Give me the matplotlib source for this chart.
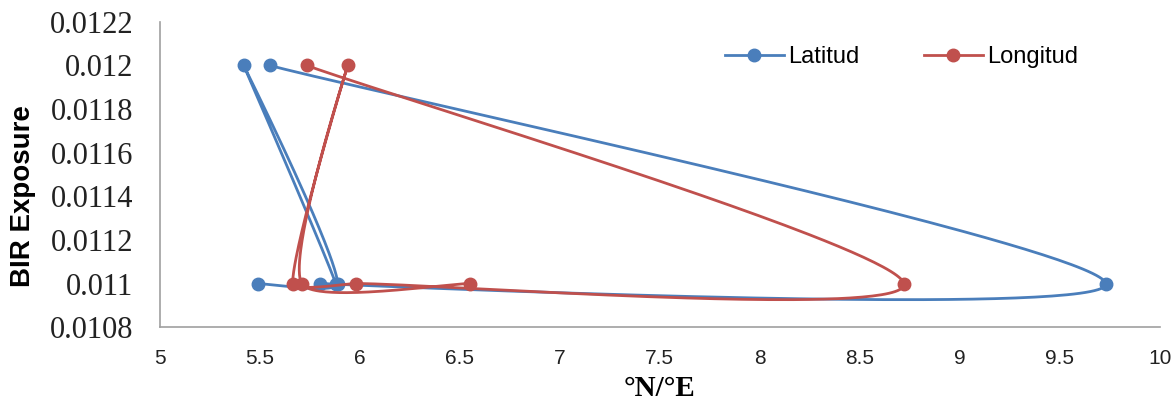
import numpy as np
import matplotlib
matplotlib.use("Agg")
import matplotlib.pyplot as plt

# One row per site: BIR exposure with its latitude and longitude
bir = [0.012, 0.011, 0.011, 0.011, 0.012, 0.011, 0.011]
lat = [5.55, 9.73, 5.80, 5.88, 5.42, 5.89, 5.49]
lon = [5.735, 8.72, 5.98, 5.665, 5.94, 5.71, 6.55]

x_ticks = [5, 5.5, 6, 6.5, 7, 7.5, 8, 8.5, 9, 9.5, 10]
x_tick_labels = ["5", "5.5", "6", "6.5", "7", "7.5", "8", "8.5", "9", "9.5", "10"]
y_ticks = [0.0108, 0.011, 0.0112, 0.0114, 0.0116, 0.0118, 0.012, 0.0122]
y_tick_labels = ["0.0108", "0.011", "0.0112", "0.0114", "0.0116", "0.0118", "0.012", "0.0122"]

XMIN, XMAX = 5, 10
YMIN, YMAX = 0.0108, 0.0122

BLUE = "#4a7ebb"
RED = "#c0504d"

fig = plt.figure(figsize=(11.74, 4.12), dpi=100)
ax = fig.add_axes([0.136, 0.206, 0.852, 0.741])
ax.set_xlim(XMIN, XMAX)
ax.set_ylim(YMIN, YMAX)

# axes size in pixels, the smoothing is done in screen space
W_PX = 0.852 * 1174
H_PX = 0.741 * 412


def smooth(xs, ys, n=80):
    # Bezier smoothing like a spreadsheet "smoothed line": tangent from the
    # neighbours, arms shortened on short segments and at hairpin turns
    px = (np.asarray(xs) - XMIN) / (XMAX - XMIN) * W_PX
    py = (np.asarray(ys) - YMIN) / (YMAX - YMIN) * H_PX
    P = np.column_stack([px, py])
    m = len(P)

    # how much tangent each point gets
    k = np.ones(m)
    for i in range(1, m - 1):
        a = P[i] - P[i - 1]
        b = P[i + 1] - P[i]
        na, nb = np.hypot(*a), np.hypot(*b)
        if na > 0 and nb > 0:
            turn = np.degrees(np.arccos(np.clip(a @ b / (na * nb), -1, 1)))
            k[i] = np.clip((180 - turn) / 12.0, 0, 1)

    def arm(vec, seg):
        L = np.hypot(*vec)
        lim = 0.14 * seg
        if L > lim and L > 0:
            vec = vec * lim / L
        return vec

    t = np.linspace(0, 1, n)[:, None]
    out = []
    for i in range(m - 1):
        p0 = P[max(i - 1, 0)]
        p1 = P[i]
        p2 = P[i + 1]
        p3 = P[min(i + 2, m - 1)]
        seg = np.hypot(*(p2 - p1))
        c1 = p1 + arm(k[i] * (p2 - p0) / 6.0, seg)
        c2 = p2 - arm(k[i + 1] * (p3 - p1) / 6.0, seg)
        out.append(((1 - t) ** 3) * p1 + 3 * ((1 - t) ** 2) * t * c1
                   + 3 * (1 - t) * t ** 2 * c2 + t ** 3 * p2)
    pts = np.vstack(out)
    return (pts[:, 0] / W_PX * (XMAX - XMIN) + XMIN,
            pts[:, 1] / H_PX * (YMAX - YMIN) + YMIN)


for xs, color, name in [(lat, BLUE, "Latitud"), (lon, RED, "Longitud")]:
    sx, sy = smooth(xs, bir)
    ax.plot(sx, sy, color=color, lw=2.0, solid_capstyle="round",
            solid_joinstyle="round")
    ax.plot(xs, bir, "o", color=color, ms=9, mec=color)
    ax.plot([], [], "-o", color=color, lw=2.0, ms=9, label=name)

ax.set_xticks(x_ticks)
ax.set_xticklabels(x_tick_labels, fontfamily=["Liberation Sans Narrow", "Liberation Sans"],
                   fontsize=15, color="#222222")
ax.set_yticks(y_ticks)
ax.set_yticklabels(y_tick_labels, fontfamily="Liberation Serif", fontsize=22,
                   color="#222222")
ax.tick_params(length=0)
ax.tick_params(axis="x", pad=16)
ax.tick_params(axis="y", pad=19)

for s in ["top", "right"]:
    ax.spines[s].set_visible(False)
for s in ["left", "bottom"]:
    ax.spines[s].set_color("#a0a0a0")
    ax.spines[s].set_linewidth(1.2)

ax.set_xlabel("°N/°E", fontfamily="Liberation Serif", fontweight="bold",
              fontsize=21, labelpad=5)
ax.set_ylabel("BIR Exposure", fontfamily="Liberation Sans", fontweight="bold",
              fontsize=20)
ax.yaxis.set_label_coords(-0.124, 0.43)

ax.legend(loc="center left", bbox_to_anchor=(0.565, 0.885), ncol=2, frameon=False,
          prop={"family": "Liberation Sans", "size": 17}, columnspacing=2.7,
          handlelength=2.5, handletextpad=0.2, borderaxespad=0, borderpad=0)

fig.savefig("out.png", dpi=100)
